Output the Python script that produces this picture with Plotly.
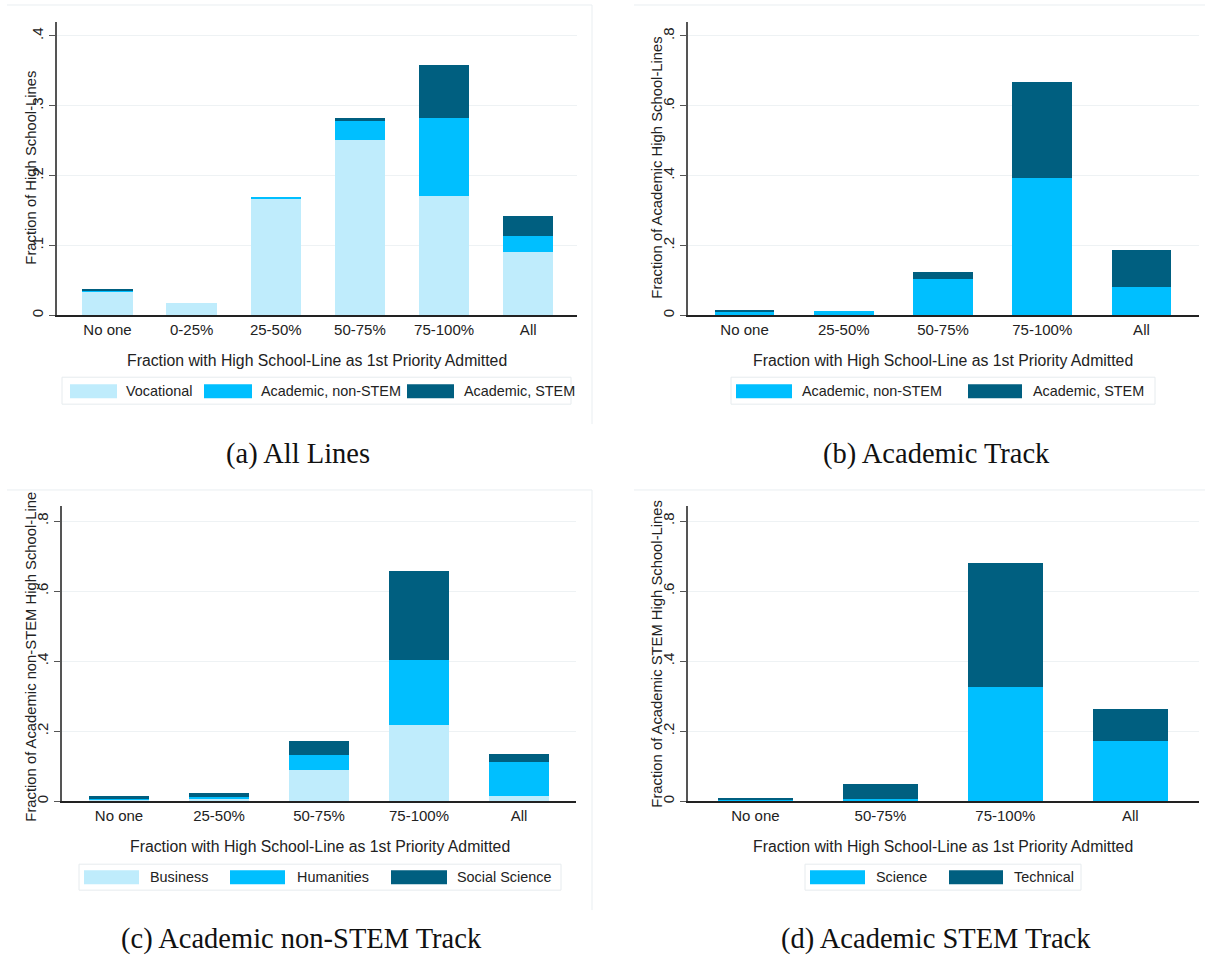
import plotly.graph_objects as go

W, H = 1205, 961

# ---------------- data ----------------
cats_a = ["No one", "0-25%", "25-50%", "50-75%", "75-100%", "All"]
vocational_a = [0.034, 0.0176, 0.166, 0.251, 0.171, 0.090]
nonstem_a = [0.0015, 0.0, 0.003, 0.027, 0.111, 0.023]
stem_a = [0.0015, 0.0, 0.0, 0.005, 0.076, 0.029]

cats_b = ["No one", "25-50%", "50-75%", "75-100%", "All"]
nonstem_b = [0.011, 0.013, 0.105, 0.394, 0.080]
stem_b = [0.003, 0.0, 0.020, 0.273, 0.107]

cats_c = ["No one", "25-50%", "50-75%", "75-100%", "All"]
business_c = [0.005, 0.006, 0.090, 0.217, 0.014]
humanities_c = [0.0045, 0.006, 0.041, 0.187, 0.097]
socsci_c = [0.0045, 0.013, 0.042, 0.253, 0.024]

cats_d = ["No one", "50-75%", "75-100%", "All"]
science_d = [0.004, 0.008, 0.326, 0.173]
technical_d = [0.0065, 0.041, 0.354, 0.090]

ticks_a = [0, 0.1, 0.2, 0.3, 0.4]
ticktext_a = ["0", ".1", ".2", ".3", ".4"]
ticks_b = [0, 0.2, 0.4, 0.6, 0.8]
ticktext_b = ["0", ".2", ".4", ".6", ".8"]

LIGHT, MID, DARK = "#bfecfc", "#00bfff", "#005f80"

ytitles = ["Fraction of High School-Lines",
           "Fraction of Academic High School-Lines",
           "Fraction of Academic non-STEM High School-Line",
           "Fraction of Academic STEM High School-Lines"]
xtitle = "Fraction with High School-Line as 1st Priority Admitted"
captions = ["(a) All Lines", "(b) Academic Track",
            "(c) Academic non-STEM Track", "(d) Academic STEM Track"]

# ---------------- layout geometry (pixels) ----------------
panels = [
    dict(cats=cats_a, series=[("Vocational", vocational_a, LIGHT),
                              ("Academic, non-STEM", nonstem_a, MID),
                              ("Academic, STEM", stem_a, DARK)],
         x0=57, x1=577, ytop=22, yzero=316, ymax=0.42, xr=(-0.6, 5.58),
         ticks=ticks_a, ticktext=ticktext_a,
         ytitle_xy=(31, 168), xtitle_xy=(317, 361), cap_xy=(298, 455),
         legend=dict(box=(62, 378, 571, 405), sw=(385, 399),
                     items=[(70, 117, 124, "Vocational", LIGHT),
                            (204, 252, 259, "Academic, non-STEM", MID),
                            (407, 454, 462, "Academic, STEM", DARK)])),
    dict(cats=cats_b, series=[("Academic, non-STEM", nonstem_b, MID),
                              ("Academic, STEM", stem_b, DARK)],
         x0=688, x1=1199, ytop=22, yzero=316, ymax=0.84, xr=(-0.57, 4.58),
         ticks=ticks_b, ticktext=ticktext_b,
         ytitle_xy=(657, 168), xtitle_xy=(943, 361), cap_xy=(936, 455),
         legend=dict(box=(731, 378, 1155, 405), sw=(385, 399),
                     items=[(736, 792, 800, "Academic, non-STEM", MID),
                            (968, 1022, 1031, "Academic, STEM", DARK)])),
    dict(cats=cats_c, series=[("Business", business_c, LIGHT),
                              ("Humanities", humanities_c, MID),
                              ("Social Science", socsci_c, DARK)],
         x0=62, x1=576, ytop=507, yzero=803, ymax=0.843, xr=(-0.57, 4.57),
         ticks=ticks_b, ticktext=ticktext_b,
         ytitle_xy=(31, 658), xtitle_xy=(320, 848), cap_xy=(301, 941),
         legend=dict(box=(79, 866, 561, 892), sw=(872, 886),
                     items=[(84, 139, 148, "Business", LIGHT),
                            (230, 285, 295, "Humanities", MID),
                            (391, 447, 455, "Social Science", DARK)])),
    dict(cats=cats_d, series=[("Science", science_d, MID),
                              ("Technical", technical_d, DARK)],
         x0=688, x1=1199, ytop=507, yzero=803, ymax=0.843, xr=(-0.54, 3.55),
         ticks=ticks_b, ticktext=ticktext_b,
         ytitle_xy=(657, 655), xtitle_xy=(943, 848), cap_xy=(936, 941),
         legend=dict(box=(805, 866, 1081, 892), sw=(872, 886),
                     items=[(810, 865, 874, "Science", MID),
                            (949, 1003, 1012, "Technical", DARK)])),
]

SANS = "Liberation Sans, Arial, sans-serif"
SERIF = "Liberation Serif, Times New Roman, serif"
TXT = "#222222"
FS_TICK = 15
FS_TITLE = 15.8
FS_LEG = 14.4


def px(x):
    return x / W


def py(y):
    return 1 - y / H


fig = go.Figure()
layout = dict(width=W, height=H, margin=dict(l=0, r=0, t=0, b=0),
              paper_bgcolor="white", plot_bgcolor="white",
              barmode="stack", showlegend=False)
annotations = []
shapes = []

for i, p in enumerate(panels):
    sfx = "" if i == 0 else str(i + 1)
    xa, ya = "x" + sfx, "y" + sfx
    for name, vals, col in p["series"]:
        fig.add_trace(go.Bar(x=p["cats"], y=vals, name=name, width=0.6,
                             marker=dict(color=col, line=dict(width=0)),
                             xaxis=xa, yaxis=ya))
    layout["xaxis" + sfx] = dict(
        domain=[px(p["x0"]), px(p["x1"])], anchor=ya, type="category",
        range=list(p["xr"]), showline=True, linecolor="#222", linewidth=1.5,
        ticks="", showgrid=False, zeroline=False,
        tickfont=dict(family=SANS, size=FS_TICK, color=TXT))
    layout["yaxis" + sfx] = dict(
        domain=[py(p["yzero"]), py(p["ytop"])], anchor=xa,
        range=[0, p["ymax"]], tickvals=p["ticks"], ticktext=p["ticktext"],
        tickangle=-90, ticks="outside", ticklen=6, tickcolor="#555",
        tickwidth=1.2, showline=True, linecolor="#555", linewidth=1.5,
        showgrid=True, gridcolor="#eef2f4", gridwidth=1, zeroline=False,
        tickfont=dict(family=SANS, size=FS_TICK, color=TXT))

    annotations.append(dict(text=ytitles[i], x=px(p["ytitle_xy"][0]),
                            y=py(p["ytitle_xy"][1]), xref="paper", yref="paper",
                            textangle=-90, showarrow=False, xanchor="center",
                            yanchor="middle",
                            font=dict(family=SANS, size=14.8, color=TXT)))
    annotations.append(dict(text=xtitle, x=px(p["xtitle_xy"][0]),
                            y=py(p["xtitle_xy"][1]), xref="paper", yref="paper",
                            showarrow=False, xanchor="center", yanchor="middle",
                            font=dict(family=SANS, size=FS_TITLE, color=TXT)))
    annotations.append(dict(text=captions[i], x=px(p["cap_xy"][0]),
                            y=py(p["cap_xy"][1]), xref="paper", yref="paper",
                            showarrow=False, xanchor="center", yanchor="middle",
                            font=dict(family=SERIF, size=28.5, color="#111")))

    lg = p["legend"]
    bx0, by0, bx1, by1 = lg["box"]
    shapes.append(dict(type="rect", xref="paper", yref="paper",
                       x0=px(bx0), x1=px(bx1), y0=py(by1), y1=py(by0),
                       line=dict(color="#e6ebee", width=1),
                       fillcolor="rgba(0,0,0,0)"))
    s0, s1 = lg["sw"]
    for (sx0, sx1, tx, label, col) in lg["items"]:
        shapes.append(dict(type="rect", xref="paper", yref="paper",
                           x0=px(sx0), x1=px(sx1), y0=py(s1), y1=py(s0),
                           line=dict(width=0), fillcolor=col))
        annotations.append(dict(text=label, x=px(tx), y=py((s0 + s1) / 2),
                                xref="paper", yref="paper", showarrow=False,
                                xanchor="left", yanchor="middle",
                                font=dict(family=SANS, size=FS_LEG, color=TXT)))

# faint graph-region frames (Stata style)
FRAME = "#e9eef1"
for (fx0, fx1, fy) in [(7, 592, 5), (634, 1205, 5), (7, 592, 491), (634, 1205, 491)]:
    shapes.append(dict(type="line", xref="paper", yref="paper",
                       x0=px(fx0), x1=px(fx1), y0=py(fy), y1=py(fy),
                       line=dict(color=FRAME, width=1)))
for (fy0, fy1) in [(5, 425), (491, 912)]:
    shapes.append(dict(type="line", xref="paper", yref="paper",
                       x0=px(592), x1=px(592), y0=py(fy0), y1=py(fy1),
                       line=dict(color=FRAME, width=1)))

layout["annotations"] = annotations
layout["shapes"] = shapes
fig.update_layout(**layout)
fig.write_html("out.html",
               config={"displayModeBar": False},
               post_script="document.body.style.margin='0';"
                           "document.body.style.padding='0';"
                           "document.body.style.overflow='hidden';")
